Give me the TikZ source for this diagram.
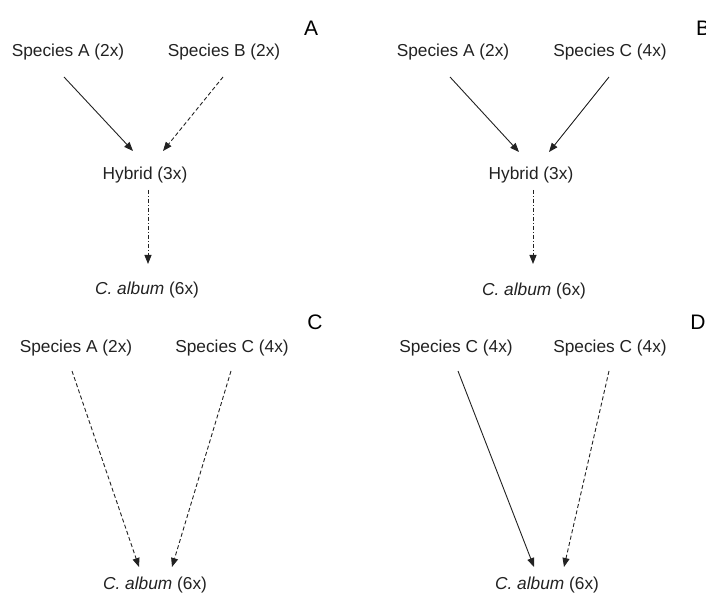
\documentclass[tikz,border=0pt]{standalone}
\usepackage{fontspec}
\setmainfont{Liberation Sans}
\usetikzlibrary{arrows.meta}
\definecolor{ink}{HTML}{222222}
\tikzset{
  lbl/.style={text=ink, font=\fontsize{17.3}{20}\selectfont, inner sep=0pt, anchor=center},
  panel/.style={text=black, font=\fontsize{21}{24}\selectfont, inner sep=0pt},
  conn/.style={draw=ink, line width=0.9pt, -{Triangle[length=9pt,width=7pt]}},
  dsh/.style={conn, dash pattern=on 4pt off 2.5pt},
  dshdot/.style={conn, dash pattern=on 4pt off 2pt on 1pt off 2pt},
}
\begin{document}
\begin{tikzpicture}[x=1pt,y=-1pt]
\useasboundingbox (0,0) rectangle (706,593);
% Panel A
\node[panel] (pa) at (311,28) {A};
\node[lbl] (aA) at (68,52) {Species A (2x)};
\node[lbl] (aB) at (224,52) {Species B (2x)};
\node[lbl] (aH) at (145,175) {Hybrid (3x)};
\node[lbl] (aC) at (147,290) {\textit{C. album} (6x)};
\coordinate (a1s) at (64,77); \coordinate (a1e) at (133,151);
\coordinate (a2s) at (223,77); \coordinate (a2e) at (163,151);
\coordinate (a3s) at (148,190); \coordinate (a3e) at (148,264);
\draw[conn] (a1s) -- (a1e);
\draw[dsh] (a2s) -- (a2e);
\draw[dshdot] (a3s) -- (a3e);
% Panel B
\node[panel] (pb) at (703,28) {B};
\node[lbl] (bA) at (453,52) {Species A (2x)};
\node[lbl] (bC) at (610,52) {Species C (4x)};
\node[lbl] (bH) at (531,175) {Hybrid (3x)};
\node[lbl] (bX) at (534,291) {\textit{C. album} (6x)};
\coordinate (b1s) at (450,77); \coordinate (b1e) at (519,152);
\coordinate (b2s) at (609,77); \coordinate (b2e) at (549,152);
\coordinate (b3s) at (533,190); \coordinate (b3e) at (533,264);
\draw[conn] (b1s) -- (b1e);
\draw[conn] (b2s) -- (b2e);
\draw[dshdot] (b3s) -- (b3e);
% Panel C
\node[panel] (pc) at (315,322) {C};
\node[lbl] (cA) at (76,348) {Species A (2x)};
\node[lbl] (cC) at (232,348) {Species C (4x)};
\node[lbl] (cX) at (155,585) {\textit{C. album} (6x)};
\coordinate (c1s) at (72,371); \coordinate (c1e) at (139,567);
\coordinate (c2s) at (231,371); \coordinate (c2e) at (172,567);
\draw[dsh] (c1s) -- (c1e);
\draw[dsh] (c2s) -- (c2e);
% Panel D
\node[panel] (pd) at (698,322) {D};
\node[lbl] (dL) at (456,348) {Species C (4x)};
\node[lbl] (dR) at (610,348) {Species C (4x)};
\node[lbl] (dX) at (547,585) {\textit{C. album} (6x)};
\coordinate (d1s) at (458,371); \coordinate (d1e) at (534,567);
\coordinate (d2s) at (609,371); \coordinate (d2e) at (564,567);
\draw[conn] (d1s) -- (d1e);
\draw[dsh] (d2s) -- (d2e);
\end{tikzpicture}
\end{document}
